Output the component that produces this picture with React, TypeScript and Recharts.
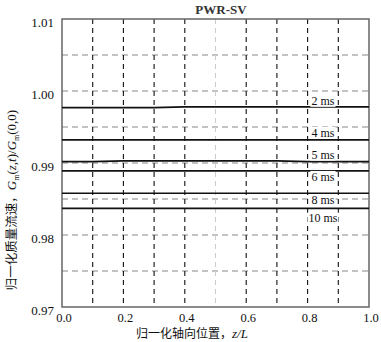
import React from 'react';
import {
  LineChart, Line, XAxis, YAxis, CartesianGrid, ReferenceArea, ReferenceDot,
} from 'recharts';

// normalized axial position z/L
const zPos = [0, 0.1, 0.2, 0.3, 0.4, 0.5, 0.6, 0.7, 0.8, 0.9, 1.0];

// normalized mass flux G_m(z,t)/G_m(0,0) at each time
const g2ms = [0.9977, 0.9977, 0.9977, 0.9977, 0.9978, 0.9978, 0.9978, 0.9978, 0.9978, 0.9978, 0.9978];
const g4ms = [0.9932, 0.9932, 0.9932, 0.9932, 0.9932, 0.9932, 0.9932, 0.9932, 0.9932, 0.9932, 0.9932];
const g5ms = [0.9902, 0.9902, 0.9903, 0.9903, 0.9903, 0.9903, 0.9903, 0.9903, 0.9902, 0.9902, 0.9902];
const g6ms = [0.9889, 0.9889, 0.9889, 0.9889, 0.9889, 0.9889, 0.9889, 0.9889, 0.9889, 0.9889, 0.9889];
const g8ms = [0.9858, 0.9858, 0.9858, 0.9858, 0.9858, 0.9858, 0.9858, 0.9858, 0.9858, 0.9858, 0.9858];
const g10ms = [0.9837, 0.9837, 0.9837, 0.9837, 0.9837, 0.9837, 0.9837, 0.9837, 0.9837, 0.9837, 0.9837];

const seriesNames = ['2 ms', '4 ms', '5 ms', '6 ms', '8 ms', '10 ms'];
const seriesValues = [g2ms, g4ms, g5ms, g6ms, g8ms, g10ms];

const xTicks = [0, 0.2, 0.4, 0.6, 0.8, 1.0];
const yTicks = [0.97, 0.98, 0.99, 1.0, 1.01];
const xGrid = [0.1, 0.2, 0.3, 0.4, 0.6, 0.7, 0.8, 0.9];
const xGridMid = [0.5];
const yGrid = [0.975, 0.98, 0.985, 0.99, 0.995, 1.0, 1.005];

const labelX = 0.85;

const data = zPos.map((z, i) => {
  const row: Record<string, number> = { z };
  seriesValues.forEach((vals, k) => { row[`s${k}`] = vals[i]; });
  return row;
});

// label offset (px) from its line: first three sit above, last three below
const labelDy = [-6, -7, -7, 6, 7, 10];

const serif = 'Liberation Serif, Times New Roman, serif';
const cjk = 'Noto Sans CJK SC, sans-serif';

function SeriesLabel({ cx, cy, text, dy }: { cx?: number; cy?: number; text: string; dy: number }) {
  if (cx == null || cy == null) return null;
  const w = text.length * 5.8 + 2;
  return (
    <g>
      <rect x={cx - w / 2} y={cy + dy - 6} width={w} height={12} fill="#fff" />
      <text x={cx} y={cy + dy} textAnchor="middle" dominantBaseline="central"
        style={{ fontFamily: serif }} fontSize={12} fill="#111">{text}</text>
    </g>
  );
}

export default function App() {
  return (
    <div style={{ position: 'absolute', left: 0, top: 0, width: 381, height: 342, background: '#fff', fontFamily: serif }}>
      <div style={{
        position: 'absolute', left: 0, top: 2, width: 442, textAlign: 'center',
        fontFamily: serif, fontSize: 13, fontWeight: 'bold', color: '#333',
      }}>PWR-SV</div>
      <LineChart width={381} height={342} data={data} style={{ fontFamily: serif }}
        margin={{ top: 19, right: 12, left: 0, bottom: 5 }}>
        <CartesianGrid horizontal vertical={false} horizontalValues={yGrid}
          stroke="#888" strokeDasharray="6 4" strokeWidth={1.2} />
        <CartesianGrid horizontal={false} vertical verticalValues={xGrid}
          stroke="#111" strokeDasharray="5 4" strokeWidth={1.1} />
        <CartesianGrid horizontal={false} vertical verticalValues={xGridMid}
          stroke="#ccc" strokeDasharray="5 4" strokeWidth={1.1} />
        <XAxis dataKey="z" type="number" domain={[0, 1]} ticks={xTicks}
          tickFormatter={(v: number) => v.toFixed(1)}
          axisLine={false} tickLine={false} interval={0} tickMargin={0}
          tick={{ fontSize: 12.5, fill: '#111', dx: 2, style: { fontFamily: serif } }}
          label={{
            content: () => (
              <text x={192} y={338} textAnchor="middle" fontSize={12} fill="#111" style={{ fontFamily: cjk }}>
                归一化轴向位置，<tspan style={{ fontFamily: serif }} fontStyle="italic" fontSize={13}>z/L</tspan>
              </text>
            ),
          }} />
        <YAxis type="number" domain={[0.97, 1.01]} ticks={yTicks} width={62}
          tickFormatter={(v: number) => v.toFixed(2)}
          axisLine={false} tickLine={false} interval={0}
          tick={{ fontSize: 13, fill: '#111', dy: 3, style: { fontFamily: serif } }}
          label={{
            content: () => (
              <text transform="translate(16,200) rotate(-90)" textAnchor="middle"
                fontSize={12.5} fill="#111" style={{ fontFamily: cjk }}>
                归一化质量流速，
                <tspan style={{ fontFamily: serif }} fontStyle="italic" fontSize={13}>G</tspan>
                <tspan style={{ fontFamily: serif }} fontSize={8} dy={3}>m</tspan>
                <tspan style={{ fontFamily: serif }} fontSize={13} dy={-3}>(</tspan>
                <tspan style={{ fontFamily: serif }} fontStyle="italic" fontSize={13}>z</tspan>
                <tspan style={{ fontFamily: serif }} fontSize={13}>,</tspan>
                <tspan style={{ fontFamily: serif }} fontStyle="italic" fontSize={13}>t</tspan>
                <tspan style={{ fontFamily: serif }} fontSize={13}>)/</tspan>
                <tspan style={{ fontFamily: serif }} fontStyle="italic" fontSize={13}>G</tspan>
                <tspan style={{ fontFamily: serif }} fontSize={8} dy={3}>m</tspan>
                <tspan style={{ fontFamily: serif }} fontSize={13} dy={-3}>(0,0)</tspan>
              </text>
            ),
          }} />
        {seriesNames.map((name, k) => (
          <Line key={name} dataKey={`s${k}`} name={name} type="linear"
            stroke="#111" strokeWidth={1.7} dot={false} activeDot={false}
            isAnimationActive={false} />
        ))}
        <ReferenceArea x1={0} x2={1} y1={0.97} y2={1.01} fill="none" fillOpacity={0}
          stroke="#666" strokeWidth={1.5} />
        {seriesNames.map((name, k) => (
          <ReferenceDot key={`lab-${name}`} x={labelX} y={seriesValues[k][8]} r={1}
            shape={(p: { cx?: number; cy?: number }) => (
              <SeriesLabel cx={p.cx} cy={p.cy} text={name} dy={labelDy[k]} />
            )} />
        ))}
      </LineChart>
    </div>
  );
}
